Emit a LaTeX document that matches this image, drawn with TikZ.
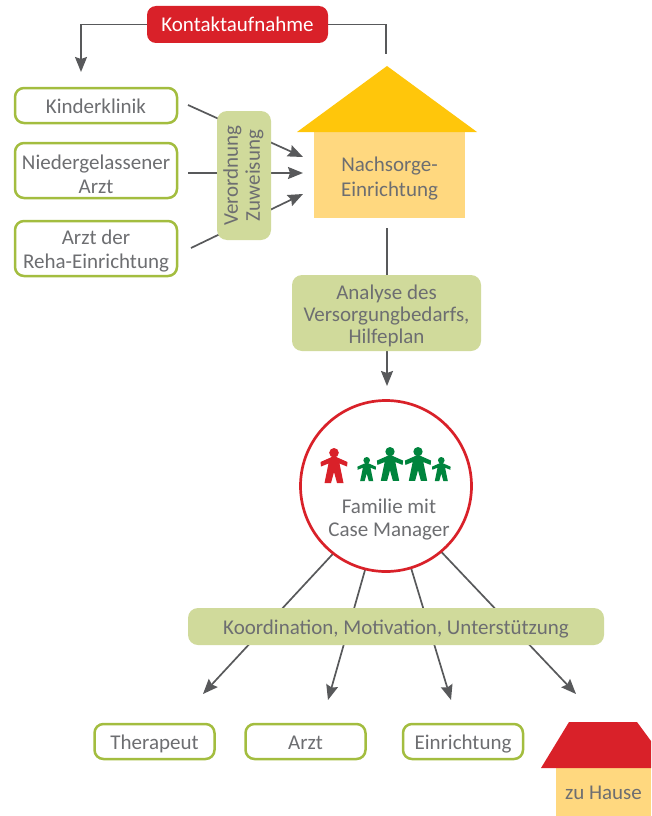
\documentclass[tikz,border=0pt]{standalone}
\usepackage{fontspec}
\setmainfont{Carlito}
\usepackage{xcolor}
\usetikzlibrary{arrows.meta, positioning, backgrounds}
\definecolor{linegray}{HTML}{58595B}
\definecolor{textgray}{HTML}{6D6E71}
\definecolor{boxgreen}{HTML}{A3BD3F}
\definecolor{palegreen}{HTML}{D0DA9B}
\definecolor{signalred}{HTML}{D92129}
\definecolor{roofyellow}{HTML}{FFC60B}
\definecolor{wallyellow}{HTML}{FFD87F}
\definecolor{familygreen}{HTML}{00843D}
\newcommand{\lift}[1]{\rule{0pt}{#1}}

\begin{document}
\begin{tikzpicture}[
		x=1pt, y=-1pt,
		every node/.style={align=center, outer sep=0pt, inner sep=0pt, text=textgray, font=\fontsize{21}{24}\selectfont,
			execute at begin node={\rule[-5pt]{0pt}{25pt}}},
		place/.style={draw=boxgreen, line width=2.5pt, rounded corners=9pt, fill=white, minimum width=162pt},
		hint/.style={fill=palegreen, rounded corners=10pt},
		wall/.style={fill=wallyellow},
		arrow/.style={-{Stealth[length=15pt, width=12pt, inset=2pt]}, draw=linegray, line width=1.7pt},
		link/.style={draw=linegray, line width=1.7pt},
		person/.pic={
			\fill (0,4.8) circle (4.8);
			\fill (0,8) -- (13.5,14) -- (13,18.5) -- (5.5,15.5) -- (9.5,35) -- (3,35) -- (0,24)
				-- (-3,35) -- (-9.5,35) -- (-5.5,15.5) -- (-13,18.5) -- (-13.5,14) -- cycle;
		}
		]
		\useasboundingbox (0,0) rectangle (651,816);
		
		% Nodes
		\node (kontakt) [fill=signalred, rounded corners=9pt, text=white, minimum width=181pt, minimum height=37pt] at (237.5,24.5) {Kontaktaufnahme};
		\node (kinderklinik) [place, minimum height=35pt] at (96,105.5) {Kinderklinik};
		\node (niedergelassen) [place, minimum height=55pt, below=20pt of kinderklinik] {\lift{26pt}Niedergelassener\\Arzt};
		\node (reha) [place, minimum height=55pt, below=23pt of niedergelassen] {\lift{20pt}Arzt der\\Reha-Einrichtung};
		\node (verordnung) [hint, rotate=90, minimum width=129pt, minimum height=54pt] at (244,175.5) {Verordnung\\[-2pt]Zuweisung};
		\node (nachsorge) [wall, minimum width=151pt, minimum height=86pt] at (389.5,175) {\lift{22pt}Nachsorge-\\[1pt]Einrichtung};
		\node (analyse) [hint, minimum width=189pt, minimum height=76pt] at (386.5,313) {\lift{22pt}Analyse des\\[-2pt]Versorgungbedarfs,\\[-2pt]Hilfeplan};
		\node (familie) [draw=signalred, fill=white, line width=2.7pt, circle, minimum size=171pt] at (386,486) {};
		\node (familietext) at (389,520) {Familie mit\\[-1pt]Case Manager};
		\node (koordination) [hint, minimum width=416pt, minimum height=37pt] at (396,626.5) {Koordination, Motivation, Unterstützung};
		\node (therapeut) [place, minimum width=120pt, minimum height=35pt] at (154.5,741.5) {Therapeut};
		\node (arzt) [place, minimum width=120pt, minimum height=35pt, right=31pt of therapeut] {Arzt};
		\node (einrichtung) [place, minimum width=120pt, minimum height=35pt, right=37.5pt of arzt] {Einrichtung};
		\node (hause) [wall, minimum width=95pt, minimum height=48pt] at (603.5,792) {zu Hause};
		
		% Roofs
		\fill[roofyellow] (297,132) -- (387,66) -- (477,132) -- cycle;
		\fill[signalred] (541,768) -- (569,722) -- (637,722) -- (651,741) -- (651,768) -- cycle;
		
		% Family
		\pic[signalred] at (334,448) {person};
		\pic[familygreen, scale=0.69] at (366.7,457) {person};
		\pic[familygreen, scale=0.97] at (390,447) {person};
		\pic[familygreen, scale=0.97] at (418,447) {person};
		\pic[familygreen, scale=0.69] at (441.3,457) {person};
		
		% Free ends
		\coordinate (kontaktend) at (81,72);
		\coordinate (roofend) at (386,54);
		\coordinate (kinderstart) at (188,105);
		\coordinate (kinderend) at (303,157);
		\coordinate (niederstart) at (188,173);
		\coordinate (niederend) at (303,173);
		\coordinate (rehastart) at (191,248);
		\coordinate (rehaend) at (303,194);
		\coordinate (hausstart) at (387,228);
		\coordinate (analyseend) at (387,386);
		\coordinate (therapeutend) at (203,694);
		\coordinate (arztend) at (328,700);
		\coordinate (einrichtungend) at (451,700);
		\coordinate (hauseend) at (576,694);
		
		% Connections
		\begin{scope}[on background layer]
			\draw [arrow] (kontakt.west) -| (kontaktend);
			\draw [link] (kontakt.east) -| (roofend);
			\draw [arrow] (kinderstart) -- (kinderend);
			\draw [arrow] (niederstart) -- (niederend);
			\draw [arrow] (rehastart) -- (rehaend);
			\draw [arrow] (hausstart) -- (analyseend);
			\draw [arrow] (familie.232.5) -- (therapeutend);
			\draw [arrow] (familie.256.8) -- (arztend);
			\draw [arrow] (familie.287.6) -- (einrichtungend);
			\draw [arrow] (familie.310) -- (hauseend);
		\end{scope}
		
	\end{tikzpicture}
\end{document}
